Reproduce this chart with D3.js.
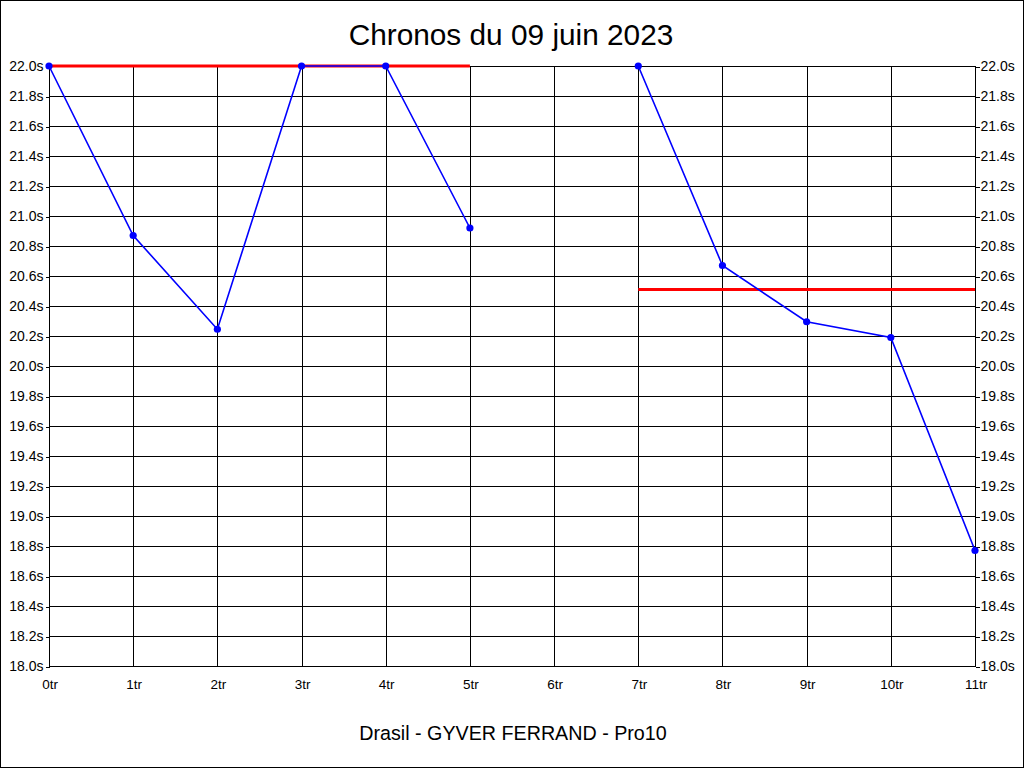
<!DOCTYPE html>
<html><head><meta charset="utf-8">
<script src="https://cdn.jsdelivr.net/npm/d3@7"></script>
<style>html,body{margin:0;padding:0;background:#fff;}svg{display:block;}</style>
</head><body>
<svg id="c" width="1024" height="768"></svg>
<script>
const title = "Chronos du 09 juin 2023";
const subtitle = "Drasil - GYVER FERRAND - Pro10";
const laps = [0,1,2,3,4,5,6,7,8,9,10,11];
const times = [22.0,20.87,20.245,22.0,22.0,20.92,null,22.0,20.67,20.295,20.19,18.77];
const refStart = [0,7];
const refEnd = [5,11];
const refValue = [22.0,20.51];
const yTicks = [18.0,18.2,18.4,18.6,18.8,19.0,19.2,19.4,19.6,19.8,20.0,20.2,20.4,20.6,20.8,21.0,21.2,21.4,21.6,21.8,22.0];

const svg = d3.select("#c");
const font = "Arial, 'Liberation Sans', sans-serif";
svg.append("rect").attr("x",0.5).attr("y",0.5).attr("width",1023).attr("height",767)
  .attr("fill","#fff").attr("stroke","#000");

const x = d3.scaleLinear().domain([0,11]).range([49,975]);
const y = d3.scaleLinear().domain([18,22]).range([666,66]);

const g = svg.append("g");
// grid
g.selectAll(".hg").data(yTicks).join("line")
  .attr("x1",x(0)).attr("x2",x(11))
  .attr("y1",d=>Math.round(y(d))+0.5).attr("y2",d=>Math.round(y(d))+0.5)
  .attr("stroke","#000").attr("stroke-width",1).attr("shape-rendering","crispEdges");
g.selectAll(".vg").data(laps).join("line")
  .attr("y1",y(22)).attr("y2",y(18)+1)
  .attr("x1",d=>Math.round(x(d))+0.5).attr("x2",d=>Math.round(x(d))+0.5)
  .attr("stroke","#000").attr("stroke-width",1).attr("shape-rendering","crispEdges");

// axes
const fmtY = d=>d.toFixed(1)+"s";
const axL = svg.append("g").attr("transform",`translate(${x(0)+0.5},0.5)`)
  .call(d3.axisLeft(y).tickValues(yTicks).tickFormat(fmtY).tickSize(4).tickPadding(2));
const axR = svg.append("g").attr("transform",`translate(${x(11)+0.5},0.5)`)
  .call(d3.axisRight(y).tickValues(yTicks).tickFormat(fmtY).tickSize(4).tickPadding(1));
const axB = svg.append("g").attr("transform",`translate(0.5,${y(18)+0.5})`)
  .call(d3.axisBottom(x).tickValues(laps).tickFormat(d=>d+"tr").tickSize(0).tickPadding(13));
[axL,axR,axB].forEach(a=>{
  a.select(".domain").remove();
  a.selectAll("text").attr("font-family",font).attr("fill","#000");
  a.selectAll("line").attr("stroke","#000").attr("shape-rendering","crispEdges");
});
axL.selectAll("text").attr("font-size",14);
axR.selectAll("text").attr("font-size",14);
axB.selectAll("text").attr("font-size",13.5).attr("dy","0.7em");

// red reference lines
svg.selectAll(".ref").data(refValue).join("line")
  .attr("x1",(d,i)=>x(refStart[i])).attr("x2",(d,i)=>x(refEnd[i]))
  .attr("y1",d=>y(d)).attr("y2",d=>y(d))
  .attr("stroke","#ff0000").attr("stroke-width",3);

// blue series
const line = d3.line().defined(d=>d!=null).x((d,i)=>x(laps[i])).y(d=>y(d));
svg.append("path").datum(times).attr("d",line)
  .attr("fill","none").attr("stroke","#0000ff").attr("stroke-width",1.6);
svg.selectAll(".pt").data(times.map((v,i)=>({v,i})).filter(d=>d.v!=null)).join("circle")
  .attr("cx",d=>x(laps[d.i])).attr("cy",d=>y(d.v)).attr("r",3.6).attr("fill","#0000ff");

svg.append("text").attr("x",511).attr("y",45).attr("text-anchor","middle")
  .attr("font-family",font).attr("font-size",29.8).text(title);
svg.append("text").attr("x",513).attr("y",740).attr("text-anchor","middle")
  .attr("font-family",font).attr("font-size",19.7).text(subtitle);
</script>
</body></html>
